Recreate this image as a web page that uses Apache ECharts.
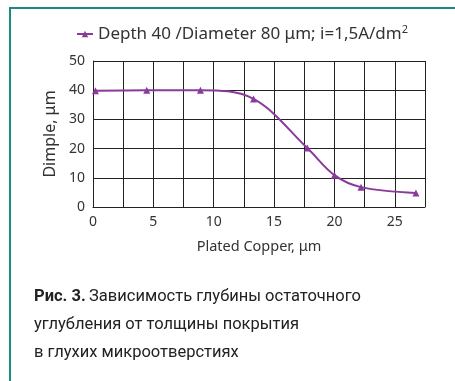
<!DOCTYPE html>
<html><head><meta charset="utf-8">
<script src="https://cdn.jsdelivr.net/npm/echarts@6/dist/echarts.min.js"></script>
<style>html,body{margin:0;padding:0;background:#fff}#c{width:455px;height:381px}</style>
</head><body><div id="c"></div>
<script>
const seriesName = 'Depth 40 /Diameter 80 μm; i=1,5A/dm2';
const platedCopper = [0.2, 4.45, 8.9, 13.3, 17.75, 20.0, 22.2, 26.75];
const dimple = [39.8, 40.0, 40.0, 37.0, 20.2, 10.9, 6.8, 4.8];
const xTicks = [0, 5, 10, 15, 20, 25];
const yTicks = [0, 10, 20, 30, 40, 50];
const captionBold = 'Рис. 3.';
const captionLines = ['Зависимость глубины остаточного', 'углубления от толщины покрытия', 'в глухих микроотверстиях'];

const chart = echarts.init(document.getElementById('c'), null, {renderer: 'canvas'});
const purple = '#8b3a9c';
const teal = '#1b8a80';
chart.setOption({
  animation: false,
  legend: {
    top: 19, left: 71,
    itemWidth: 16, itemHeight: 8, itemGap: 10,
    data: [{name: seriesName}],
    formatter: () => '{a|Depth 40 /Diameter 80 μm; i=1,5A/dm}{s|2}',
    textStyle: {
      rich: {
        a: {fontFamily: 'Noto Sans', fontSize: 17, color: '#333'},
        s: {fontFamily: 'Noto Sans', fontSize: 11, color: '#333', verticalAlign: 'top', padding: [0,0,9,0]}
      }
    }
  },
  grid: {left: 93, right: 30, top: 61, bottom: 174},
  xAxis: {
    type: 'value', min: 0, max: 27.5, interval: 2.5,
    name: 'Plated Copper, μm', nameLocation: 'middle', nameGap: 32,
    nameTextStyle: {fontFamily: 'Noto Sans', fontSize: 14.5, color: '#333'},
    axisLine: {show: true, lineStyle: {color: '#222', width: 1}},
    axisTick: {show: false},
    splitLine: {show: true, lineStyle: {color: '#222', width: 1}},
    axisLabel: {
      fontFamily: 'Noto Sans', fontSize: 14, color: '#333', margin: 8,
      showMaxLabel: false,
      formatter: v => xTicks.includes(v) ? String(v) : ''
    }
  },
  yAxis: {
    type: 'value', min: 0, max: 50, interval: 10,
    name: 'Dimple, μm', nameLocation: 'middle', nameGap: 33,
    nameTextStyle: {fontFamily: 'Noto Sans', fontSize: 16, color: '#333'},
    axisLine: {show: true, lineStyle: {color: '#222', width: 1}},
    axisTick: {show: false},
    splitLine: {show: true, lineStyle: {color: '#222', width: 1}},
    axisLabel: {
      fontFamily: 'Noto Sans', fontSize: 14, color: '#333', margin: 8,
      formatter: v => yTicks.includes(v) ? String(v) : ''
    }
  },
  series: [{
    name: seriesName,
    type: 'line',
    smooth: 0.35,
    symbol: 'triangle', symbolSize: 7,
    itemStyle: {color: purple},
    lineStyle: {color: purple, width: 2},
    data: platedCopper.map((x, i) => [x, dimple[i]])
  }],
  graphic: [
    {type: 'rect', shape: {x: 9, y: 7, width: 460, height: 2}, style: {fill: teal}},
    {type: 'rect', shape: {x: 9, y: 7, width: 2, height: 380}, style: {fill: teal}},
    {type: 'text', left: 34, top: 288, style: {
      text: '{b|' + captionBold + '} {n|' + captionLines[0] + '}',
      rich: {
        b: {fontFamily: 'Roboto', fontWeight: 'bold', fontSize: 16.5, fill: '#222'},
        n: {fontFamily: 'Roboto', fontSize: 16.5, fill: '#222'}
      }
    }},
    {type: 'text', left: 34, top: 316, style: {text: captionLines[1], font: '16.5px Roboto', fill: '#222'}},
    {type: 'text', left: 34, top: 344, style: {text: captionLines[2], font: '16.5px Roboto', fill: '#222'}}
  ]
});
</script></body></html>
